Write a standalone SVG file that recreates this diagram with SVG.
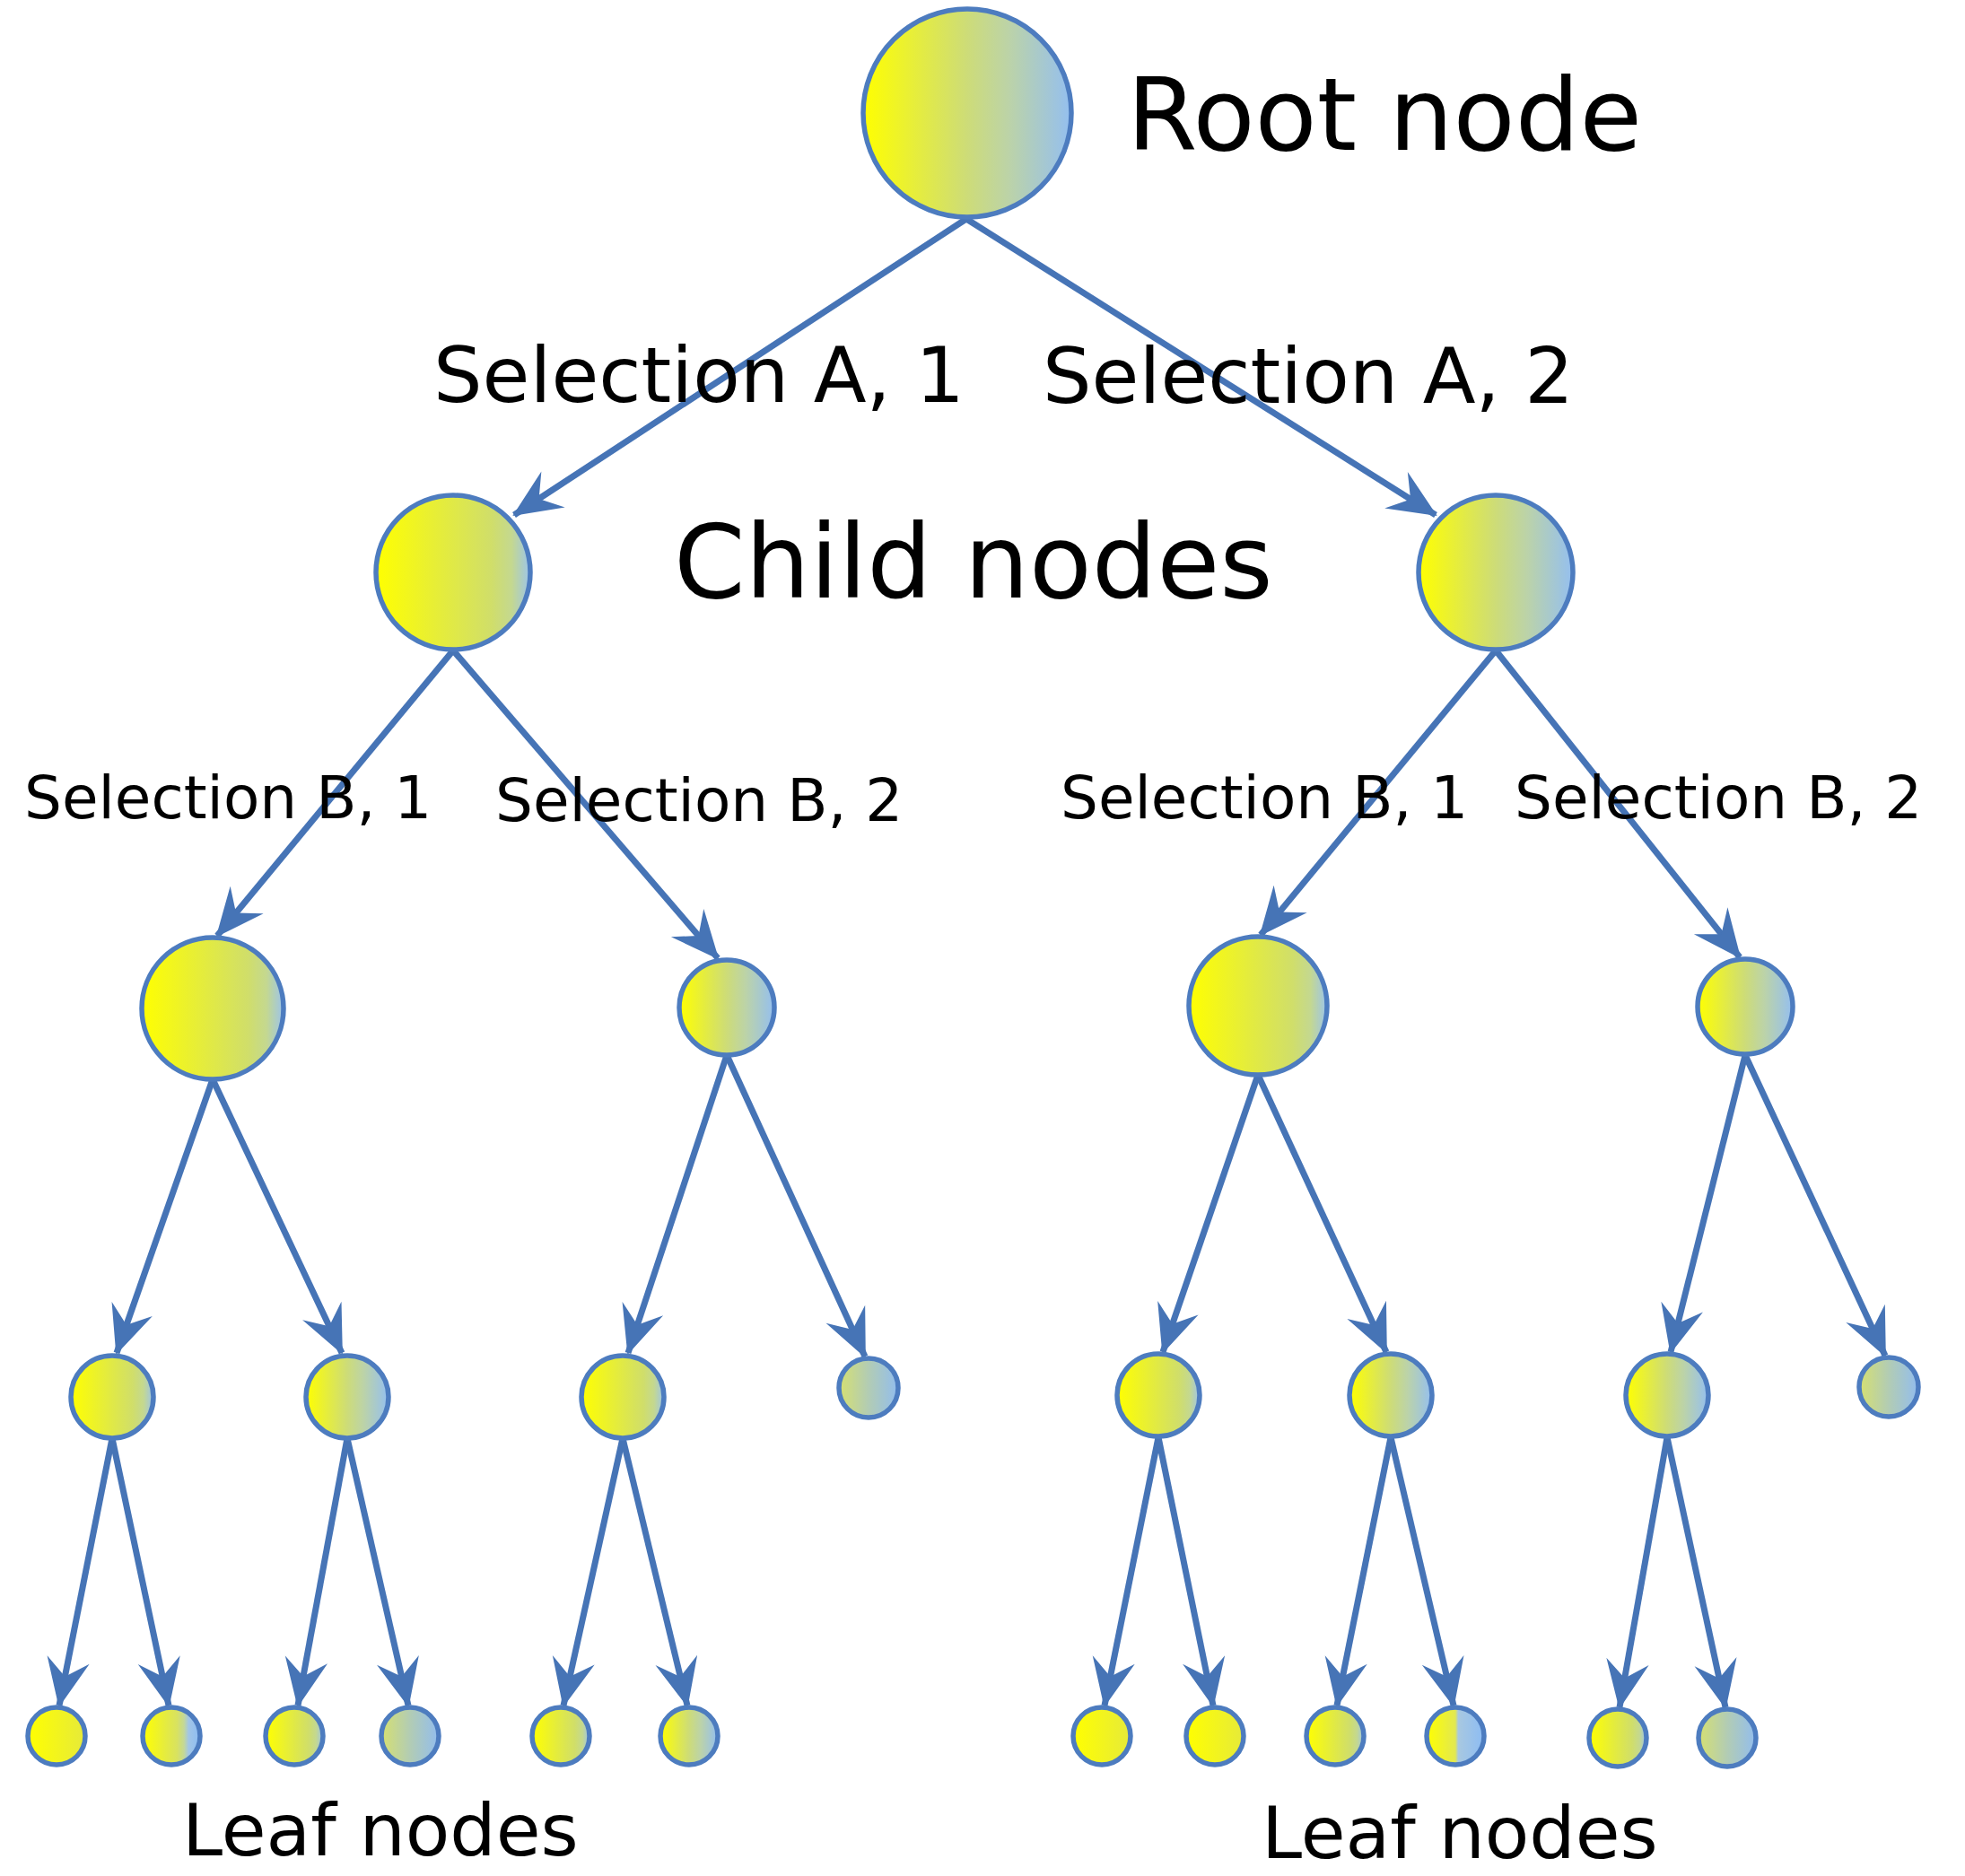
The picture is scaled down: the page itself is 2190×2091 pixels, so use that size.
<svg xmlns="http://www.w3.org/2000/svg" width="2190" height="2091" viewBox="0 0 2190 2091">
<style>
.node{stroke:#4d7cbf;stroke-width:5.5}
.edge{stroke:#4674b6;stroke-width:7;fill:none;marker-end:url(#arr)}
.t{font-family:"DejaVu Sans","Liberation Sans",sans-serif;fill:#000}
</style>
<defs>
<marker id="arr" markerUnits="userSpaceOnUse" viewBox="-56 -28 60 56" refX="0" refY="0" markerWidth="60" markerHeight="56" orient="auto">
<path d="M2,0 L-52,-24 L-33,0 L-52,24 Z" fill="#4674b6"/>
</marker>
<linearGradient id="g1" x1="0" y1="0" x2="1" y2="0">
<stop offset="0" stop-color="#ffff00"/><stop offset="1" stop-color="#e6ea3a"/>
</linearGradient>
<linearGradient id="g2" x1="0" y1="0" x2="1" y2="0">
<stop offset="0" stop-color="#ffff00"/><stop offset="0.75" stop-color="#d0de6a"/><stop offset="0.88" stop-color="#c4d890"/><stop offset="1" stop-color="#9cc4ec"/>
</linearGradient>
<linearGradient id="g3" x1="0" y1="0" x2="1" y2="0">
<stop offset="0" stop-color="#ffff00"/><stop offset="0.5" stop-color="#cddc78"/><stop offset="0.7" stop-color="#bcd3a8"/><stop offset="1" stop-color="#94bff0"/>
</linearGradient>
<linearGradient id="g4" x1="0" y1="0" x2="1" y2="0">
<stop offset="0" stop-color="#d6e070"/><stop offset="0.5" stop-color="#b2ccb4"/><stop offset="1" stop-color="#92bdee"/>
</linearGradient>
<linearGradient id="g5" x1="0" y1="0" x2="1" y2="0">
<stop offset="0" stop-color="#ffff00"/><stop offset="0.5" stop-color="#e2e850"/><stop offset="0.55" stop-color="#a8c8e0"/><stop offset="1" stop-color="#8cbcf4"/>
</linearGradient>
<linearGradient id="g6" x1="0" y1="0" x2="1" y2="0">
<stop offset="0" stop-color="#ffff00"/><stop offset="0.6" stop-color="#d8e260"/><stop offset="0.72" stop-color="#c4d898"/><stop offset="0.8" stop-color="#a2c6e6"/><stop offset="1" stop-color="#8cbcf4"/>
</linearGradient>
</defs>
<rect width="2190" height="2091" fill="#ffffff"/>

<g id="connectors">
<line class="edge" x1="1077" y1="244" x2="573" y2="574"/>
<line class="edge" x1="1077" y1="244" x2="1600" y2="574"/>
<line class="edge" x1="505" y1="725" x2="242" y2="1043"/>
<line class="edge" x1="505" y1="725" x2="800" y2="1068"/>
<line class="edge" x1="1667" y1="725" x2="1405" y2="1042"/>
<line class="edge" x1="1667" y1="725" x2="1939" y2="1067"/>
<line class="edge" x1="237" y1="1203" x2="130" y2="1508"/>
<line class="edge" x1="237" y1="1203" x2="381" y2="1508"/>
<line class="edge" x1="810" y1="1176" x2="700" y2="1508"/>
<line class="edge" x1="810" y1="1176" x2="964" y2="1512"/>
<line class="edge" x1="1402" y1="1198" x2="1296" y2="1507"/>
<line class="edge" x1="1402" y1="1198" x2="1545" y2="1507"/>
<line class="edge" x1="1945" y1="1176" x2="1862" y2="1507"/>
<line class="edge" x1="1945" y1="1176" x2="2101" y2="1511"/>
<line class="edge" x1="125" y1="1603" x2="66" y2="1901"/>
<line class="edge" x1="125" y1="1603" x2="188" y2="1901"/>
<line class="edge" x1="387" y1="1603" x2="332" y2="1901"/>
<line class="edge" x1="387" y1="1603" x2="455" y2="1901"/>
<line class="edge" x1="694" y1="1603" x2="628" y2="1901"/>
<line class="edge" x1="694" y1="1603" x2="766" y2="1901"/>
<line class="edge" x1="1291" y1="1602" x2="1231" y2="1901"/>
<line class="edge" x1="1291" y1="1602" x2="1352" y2="1901"/>
<line class="edge" x1="1550" y1="1602" x2="1490" y2="1901"/>
<line class="edge" x1="1550" y1="1602" x2="1620" y2="1901"/>
<line class="edge" x1="1858" y1="1602" x2="1805" y2="1903"/>
<line class="edge" x1="1858" y1="1602" x2="1923" y2="1903"/>
</g>

<g id="root"><circle class="node" cx="1078" cy="126" r="116" fill="url(#g3)"/></g>
<g id="childL"><circle class="node" cx="505" cy="638" r="86" fill="url(#g2)"/></g>
<g id="childR"><circle class="node" cx="1667" cy="638" r="86" fill="url(#g3)"/></g>
<g id="n_LL"><circle class="node" cx="237" cy="1124" r="79" fill="url(#g2)"/></g>
<g id="n_LR"><circle class="node" cx="810" cy="1123" r="53" fill="url(#g3)"/></g>
<g id="n_RL"><circle class="node" cx="1402" cy="1121" r="77" fill="url(#g2)"/></g>
<g id="n_RR"><circle class="node" cx="1945" cy="1122" r="53" fill="url(#g3)"/></g>

<g id="n_LLL"><circle class="node" cx="125" cy="1557" r="46" fill="url(#g2)"/></g>
<g id="n_LLR"><circle class="node" cx="387" cy="1557" r="46" fill="url(#g3)"/></g>
<g id="n_LRL"><circle class="node" cx="694" cy="1557" r="46" fill="url(#g2)"/></g>
<g id="n_LRR"><circle class="node" cx="968" cy="1547" r="33" fill="url(#g4)"/></g>
<g id="n_RLL"><circle class="node" cx="1291" cy="1555" r="46" fill="url(#g2)"/></g>
<g id="n_RLR"><circle class="node" cx="1550" cy="1555" r="46" fill="url(#g3)"/></g>
<g id="n_RRL"><circle class="node" cx="1858" cy="1555" r="46" fill="url(#g3)"/></g>
<g id="n_RRR"><circle class="node" cx="2105" cy="1546" r="33" fill="url(#g4)"/></g>

<g id="leaf1"><circle class="node" cx="63" cy="1935" r="32" fill="url(#g1)"/></g>
<g id="leaf2"><circle class="node" cx="191" cy="1935" r="32" fill="url(#g6)"/></g>
<g id="leaf3"><circle class="node" cx="328" cy="1935" r="32" fill="url(#g2)"/></g>
<g id="leaf4"><circle class="node" cx="457" cy="1935" r="32" fill="url(#g4)"/></g>
<g id="leaf5"><circle class="node" cx="625" cy="1935" r="32" fill="url(#g2)"/></g>
<g id="leaf6"><circle class="node" cx="768" cy="1935" r="32" fill="url(#g3)"/></g>
<g id="leaf7"><circle class="node" cx="1228" cy="1935" r="32" fill="url(#g1)"/></g>
<g id="leaf8"><circle class="node" cx="1354" cy="1935" r="32" fill="url(#g1)"/></g>
<g id="leaf9"><circle class="node" cx="1488" cy="1935" r="32" fill="url(#g2)"/></g>
<g id="leaf10"><circle class="node" cx="1622" cy="1935" r="32" fill="url(#g5)"/></g>
<g id="leaf11"><circle class="node" cx="1803" cy="1937" r="32" fill="url(#g2)"/></g>
<g id="leaf12"><circle class="node" cx="1925" cy="1937" r="32" fill="url(#g4)"/></g>

<g id="labels">
<text class="t" x="1256" y="167" font-size="113">Root node</text>
<text class="t" x="483" y="448" font-size="86">Selection A, 1</text>
<text class="t" x="1162" y="449" font-size="86">Selection A, 2</text>
<text class="t" x="751" y="666" font-size="114">Child nodes</text>
<text class="t" x="27" y="912" font-size="66">Selection B, 1</text>
<text class="t" x="552" y="915" font-size="66">Selection B, 2</text>
<text class="t" x="1182" y="912" font-size="66">Selection B, 1</text>
<text class="t" x="1688" y="912" font-size="66">Selection B, 2</text>
<text class="t" x="203" y="2068" font-size="81">Leaf nodes</text>
<text class="t" x="1406" y="2071" font-size="81">Leaf nodes</text>
</g>
</svg>
